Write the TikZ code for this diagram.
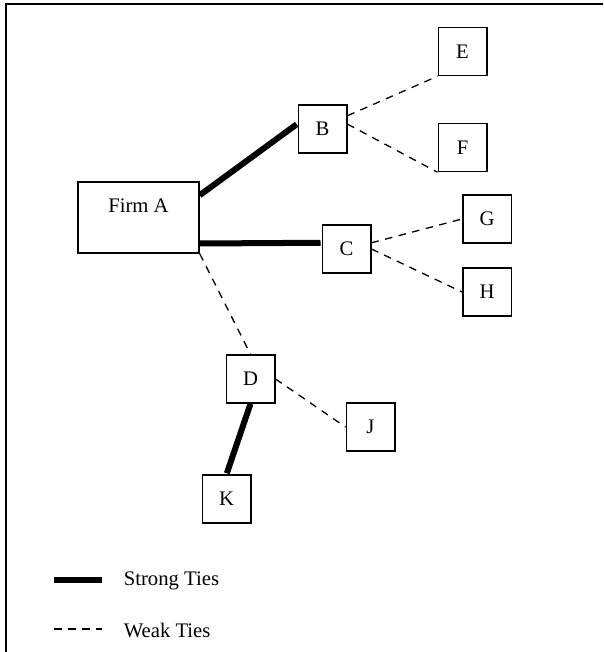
\documentclass[tikz,border=0pt]{standalone}
\usepackage{fontspec}
\setmainfont{Liberation Serif}
\begin{document}
\begin{tikzpicture}[x=1pt, y=-1pt, line width=1.5pt, font=\fontsize{20.7}{24}\selectfont]
\tikzstyle{every node} = [rectangle, draw, fill=white, inner sep=0pt, minimum width=48.5pt, minimum height=48pt]
\tikzstyle{legendtext} = [draw=none, fill=none, minimum width=0pt, minimum height=0pt, anchor=west]
\tikzstyle{strong} = [line width=6pt]
\tikzstyle{weak} = [line width=1.3pt, dash pattern=on 7.5pt off 6.5pt]
\useasboundingbox (0,0) rectangle (603,652);
\clip (0,0) rectangle (603,652);
\draw [line width=2pt] (5.5,4) rectangle (640,680);
\node (firmA) at (138.5,217.5) [align=center, minimum width=121pt, minimum height=71pt] {Firm A\\\mbox{}};
\node (B) at (322.5,129) {B};
\node (C) at (346.5,249) {C};
\node (D) at (250.5,379) {D};
\node (E) at (462.5,51.5) {E};
\node (F) at (462.5,147.5) {F};
\node (G) at (487,219) {G};
\node (H) at (487,292) {H};
\node (J) at (370.5,427) {J};
\node (K) at (226.5,499) {K};
\foreach \from/\to in {firmA.20/B.168, firmA.-23/C.166, D.south/K.north}
  \draw [strong, shorten > = 1pt] (\from) -- (\to);
\foreach \from/\to in {B.28/E.south west, B.11/F.south west, C.14/G.west, C.east/H.west, firmA.south east/D.north, D.east/J.west}
  \draw [weak] (\from) -- (\to);
% legend
\coordinate (s1) at (54,580);
\coordinate (s2) at (102,580);
\coordinate (w1) at (54,629);
\coordinate (w2) at (102,629);
\draw [strong] (s1) -- (s2);
\draw [weak] (w1) -- (w2);
\node (strongtxt) [legendtext] at (123,581) {Strong Ties};
\node (weaktxt) [legendtext] at (123,630) {Weak Ties};
\end{tikzpicture}
\end{document}
